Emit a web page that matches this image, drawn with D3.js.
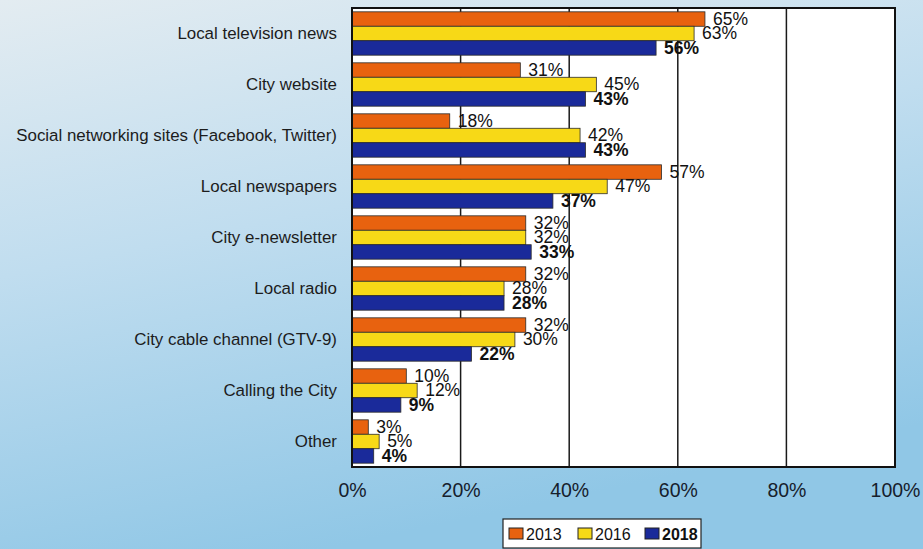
<!DOCTYPE html>
<html>
<head>
<meta charset="utf-8">
<script src="https://cdn.jsdelivr.net/npm/d3@7/dist/d3.min.js"></script>
<style>
  html, body { margin: 0; padding: 0; }
  body { width: 923px; height: 549px; overflow: hidden; }
  svg { display: block; font-family: "Liberation Sans", Arial, sans-serif; }
</style>
</head>
<body>
<svg id="chart" width="923" height="549"></svg>
<script>
// Where residents get information about the City, by survey year
const categories = [
  "Local television news",
  "City website",
  "Social networking sites (Facebook, Twitter)",
  "Local newspapers",
  "City e-newsletter",
  "Local radio",
  "City cable channel (GTV-9)",
  "Calling the City",
  "Other"
];
const years = ["2013", "2016", "2018"];
const values2013 = [65, 31, 18, 57, 32, 32, 32, 10, 3];
const values2016 = [63, 45, 42, 47, 32, 28, 30, 12, 5];
const values2018 = [56, 43, 43, 37, 33, 28, 22, 9, 4];
const tickValues = [0, 20, 40, 60, 80, 100];
const colors = ["#e8620f", "#f7d917", "#1a2a9a"];

const seriesValues = [values2013, values2016, values2018];
const rows = categories.map((c, i) => ({
  category: c,
  vals: years.map((y, k) => ({ year: y, k, value: seriesValues[k][i] }))
}));

const svg = d3.select("#chart");
const W = 923, H = 549;
const plot = { left: 352, right: 895, top: 8, bottom: 467 };

// Background wash
const defs = svg.append("defs");
const bg = defs.append("linearGradient").attr("id", "bg")
  .attr("x1", "0").attr("y1", "0").attr("x2", "0.35").attr("y2", "1");
bg.append("stop").attr("offset", "0").attr("stop-color", "#e3ecf1");
bg.append("stop").attr("offset", "0.45").attr("stop-color", "#c0ddef");
bg.append("stop").attr("offset", "1").attr("stop-color", "#90c7e6");
svg.append("rect").attr("width", W).attr("height", H).attr("fill", "url(#bg)");

const x = d3.scaleLinear().domain([0, 100]).range([plot.left, plot.right]);
const y = d3.scaleBand().domain(categories)
  .range([plot.top, plot.bottom]).paddingInner(0.15).paddingOuter(0.075);
const ySub = d3.scaleBand().domain(years).range([0, y.bandwidth()]);

// Plot area
svg.append("rect")
  .attr("x", plot.left).attr("y", plot.top)
  .attr("width", plot.right - plot.left).attr("height", plot.bottom - plot.top)
  .attr("fill", "#ffffff");

// Vertical gridlines
svg.append("g").selectAll("line")
  .data(tickValues.slice(1, -1))
  .join("line")
  .attr("x1", d => x(d)).attr("x2", d => x(d))
  .attr("y1", plot.top).attr("y2", plot.bottom)
  .attr("stroke", "#1a1a1a").attr("stroke-width", 1.5);

// Bars
const groups = svg.append("g").selectAll("g")
  .data(rows).join("g")
  .attr("transform", d => `translate(0,${y(d.category)})`);

groups.selectAll("rect")
  .data(d => d.vals).join("rect")
  .attr("x", x(0))
  .attr("y", d => ySub(d.year))
  .attr("width", d => x(d.value) - x(0))
  .attr("height", ySub.bandwidth())
  .attr("fill", d => colors[d.k])
  .attr("stroke", "#2b2b2b").attr("stroke-width", 0.8);

// Value labels
groups.selectAll("text")
  .data(d => d.vals).join("text")
  .attr("x", d => x(d.value) + 8)
  .attr("y", d => ySub(d.year) + ySub.bandwidth() / 2 + 6)
  .attr("font-size", 17.5)
  .attr("font-weight", d => d.k === 2 ? "bold" : "normal")
  .attr("fill", "#111")
  .text(d => d.value + "%");

// Plot frame
svg.append("rect")
  .attr("x", plot.left).attr("y", plot.top)
  .attr("width", plot.right - plot.left).attr("height", plot.bottom - plot.top)
  .attr("fill", "none").attr("stroke", "#111").attr("stroke-width", 2);

// Category axis
const yAxis = svg.append("g")
  .attr("transform", `translate(${plot.left},0)`)
  .call(d3.axisLeft(y).tickSize(0).tickPadding(15));
yAxis.select(".domain").remove();
yAxis.selectAll("text")
  .attr("font-size", 16.9).attr("fill", "#1c1c1c")
  .attr("font-family", "Liberation Sans, Arial, sans-serif");

// Percentage axis
const xAxis = svg.append("g")
  .attr("transform", `translate(0,${plot.bottom})`)
  .call(d3.axisBottom(x).tickValues(tickValues).tickSize(0).tickPadding(16)
    .tickFormat(d => d + "%"));
xAxis.select(".domain").remove();
xAxis.selectAll("text")
  .attr("font-size", 19.5).attr("fill", "#16202c")
  .attr("font-family", "Liberation Sans, Arial, sans-serif");

// Legend
const legend = svg.append("g").attr("transform", "translate(503,519)");
legend.append("rect").attr("width", 198).attr("height", 29)
  .attr("fill", "#ffffff").attr("stroke", "#222").attr("stroke-width", 1.2);
const legendX = [6, 75, 142];
const items = legend.selectAll("g.item").data(years).join("g")
  .attr("class", "item")
  .attr("transform", (d, i) => `translate(${legendX[i]},0)`);
items.append("rect")
  .attr("y", 9).attr("width", 14).attr("height", 11)
  .attr("fill", (d, i) => colors[i]).attr("stroke", "#222").attr("stroke-width", 1);
items.append("text")
  .attr("x", 17).attr("y", 21)
  .attr("font-size", 16)
  .attr("font-weight", (d, i) => i === 2 ? "bold" : "normal")
  .attr("fill", "#111")
  .text(d => d);
</script>
</body>
</html>
